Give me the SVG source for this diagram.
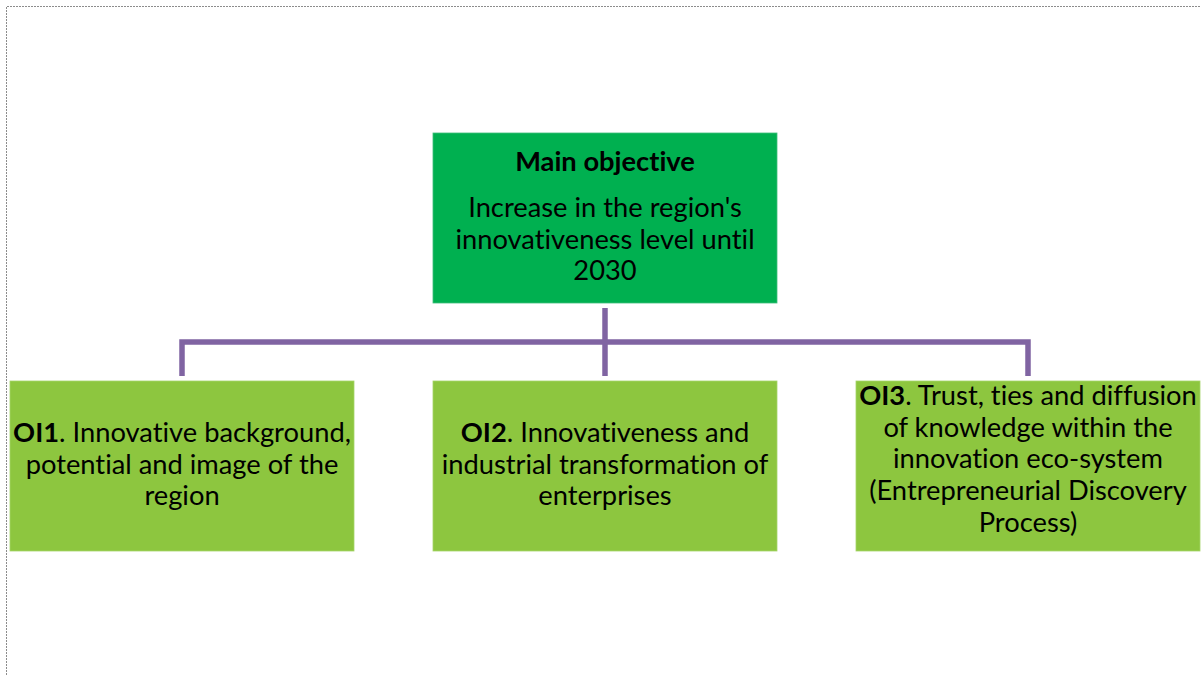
<svg xmlns="http://www.w3.org/2000/svg" width="1201" height="675" viewBox="0 0 1201 675">
<style>
.frame{fill:none;stroke:#8c8c8c;stroke-width:1;stroke-dasharray:2 1}
.main{fill:#00B050;stroke:#3fbf7a;stroke-width:0.8}
.sub{fill:#8DC63F;stroke:#a6d46a;stroke-width:0.8}
.conn{fill:none;stroke:#8064A2;stroke-width:5.5;stroke-linecap:butt;stroke-linejoin:miter}
text{font-family:Lato,"Open Sans","Liberation Sans",sans-serif;font-size:27.3px;fill:#000;text-anchor:middle;font-variant-ligatures:none;font-feature-settings:"liga" 0}
.b{font-weight:bold}
</style>
<rect width="1201" height="675" fill="#fff"/>
<path class="frame" d="M6.5,675 V6.5 H1201"/>
<g id="connectors">
<path class="conn" d="M605,308 V376"/>
<path class="conn" d="M182,376 V342 H1028 V376"/>
</g>
<g id="main-objective">
<rect class="main" x="433" y="133" width="344" height="170"/>
<text x="605" y="171" class="b">Main objective</text>
<text x="605" y="217">Increase in the region's</text>
<text x="605" y="248.5">innovativeness level until</text>
<text x="605" y="280">2030</text>
</g>
<g id="oi1">
<rect class="sub" x="10" y="381" width="344" height="170"/>
<text x="182" y="442"><tspan class="b">OI1</tspan>. Innovative background,</text>
<text x="182" y="473.5">potential and image of the</text>
<text x="182" y="505">region</text>
</g>
<g id="oi2">
<rect class="sub" x="433" y="381" width="344" height="170"/>
<text x="605" y="442"><tspan class="b">OI2</tspan>. Innovativeness and</text>
<text x="605" y="473.5">industrial transformation of</text>
<text x="605" y="505">enterprises</text>
</g>
<g id="oi3">
<rect class="sub" x="856" y="381" width="344" height="170"/>
<text x="1028" y="405"><tspan class="b">OI3</tspan>. Trust, ties and diffusion</text>
<text x="1028" y="436.7">of knowledge within the</text>
<text x="1028" y="468.4">innovation eco-system</text>
<text x="1028" y="500.1">(Entrepreneurial Discovery</text>
<text x="1028" y="531.8">Process)</text>
</g>
</svg>
